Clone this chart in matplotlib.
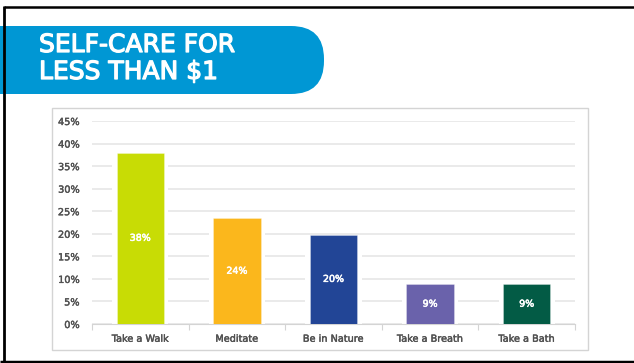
import matplotlib.pyplot as plt
import matplotlib.patheffects as pe
from matplotlib.patches import FancyBboxPatch, Rectangle

# data
categories = ['Take a Walk', 'Meditate', 'Be in Nature', 'Take a Breath', 'Take a Bath']
values = [38.0, 23.4, 19.8, 8.8, 8.8]
value_labels = ['38%', '24%', '20%', '9%', '9%']
bar_colors = ['#c8dc05', '#fbb71c', '#224596', '#6a62ab', '#035b45']
y_ticks = [0, 5, 10, 15, 20, 25, 30, 35, 40, 45]

FONT = 'DejaVu Sans'
W, H = 634, 363
fig = plt.figure(figsize=(W / 100, H / 100), dpi=100)
fig.patch.set_facecolor('white')

# background layer in pixel coordinates
bg = fig.add_axes([0, 0, 1, 1])
bg.set_xlim(0, W)
bg.set_ylim(H, 0)
bg.axis('off')

# black frame (left, top, bottom)
bg.plot([4, 4], [6, 362], color='black', lw=2, solid_capstyle='butt')
bg.plot([4, W], [7, 7], color='black', lw=1.8, solid_capstyle='butt')
bg.plot([0, W], [361.5, 361.5], color='black', lw=2.5, solid_capstyle='butt')

# chart box
bg.add_patch(Rectangle((52, 108), 536, 242, fill=False, edgecolor='#d4d4d4', lw=1))

# title banner
bg.add_patch(FancyBboxPatch((-40, 26), 364, 68, boxstyle='round,pad=0,rounding_size=33',
                            facecolor='#0097d4', edgecolor='none'))
title_font = dict(color='white', fontsize=18, family=FONT, va='center', ha='left',
                  path_effects=[pe.withStroke(linewidth=0.9, foreground='white')])
bg.text(39, 45, 'SELF-CARE FOR', **title_font)
bg.text(39, 72, 'LESS THAN $1', **title_font)

# bar chart
ax = fig.add_axes([92 / W, 1 - 324 / H, 483 / W, 203 / H])
ax.set_xlim(-0.5, len(categories) - 0.5)
ax.set_ylim(0, 45)
ax.set_yticks(y_ticks)
ax.set_yticklabels([f'{t}%' for t in y_ticks])
ax.grid(axis='y', color='#e4e4e4', lw=1.1)
ax.set_axisbelow(True)

x = range(len(categories))
ax.bar(x, values, width=0.58, color='white', zorder=2)
bars = ax.bar(x, values, width=0.49, color=bar_colors, edgecolor='#ffffff55', lw=0.6, zorder=3)
for b, lab in zip(bars, value_labels):
    ax.text(b.get_x() + b.get_width() / 2, b.get_height() / 2, lab, ha='center', va='center',
            color='white', fontsize=6.8, family=FONT, zorder=4,
            path_effects=[pe.withStroke(linewidth=0.4, foreground='white')])

ax.set_xticks(list(x))
ax.set_xticklabels(categories)
ax.set_xticks([i - 0.5 for i in range(len(categories) + 1)], minor=True)
ax.tick_params(axis='x', which='major', length=0, pad=7, labelsize=7, labelcolor='#505050')
ax.tick_params(axis='x', which='minor', length=4, color='#d4d4d4', width=0.8)
ax.tick_params(axis='y', length=0, pad=9, labelsize=7, labelcolor='#505050')
for lab in ax.get_xticklabels() + ax.get_yticklabels():
    lab.set_family(FONT)
    lab.set_path_effects([pe.withStroke(linewidth=0.3, foreground='#505050')])

for s in ['top', 'right', 'left']:
    ax.spines[s].set_visible(False)
ax.spines['bottom'].set_color('#d4d4d4')
ax.spines['bottom'].set_linewidth(0.8)

fig.savefig('out.png', dpi=100)
